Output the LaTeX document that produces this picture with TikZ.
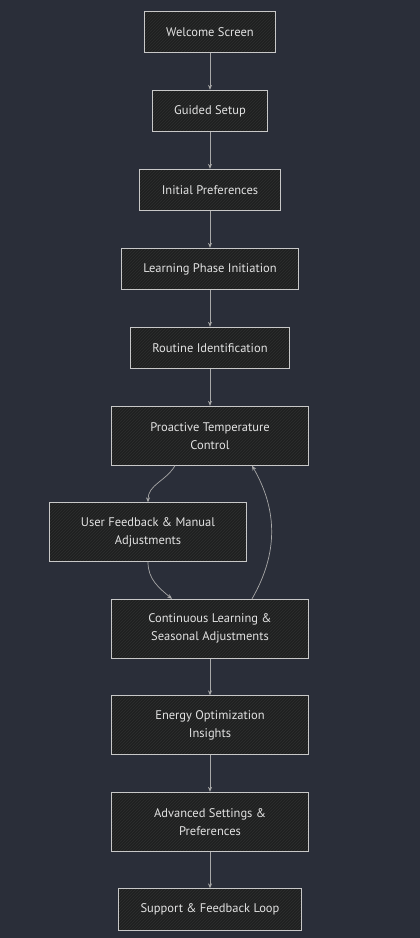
\documentclass[tikz,border=0pt]{standalone}
\usepackage{fontspec}
\setmainfont{PT Sans}
\usepackage{tikz}
\usetikzlibrary{positioning, arrows.meta, patterns}

\definecolor{bgdark}{HTML}{2A2E39}
\definecolor{boxfill}{HTML}{1F2020}
\definecolor{boxline}{HTML}{C8C8C8}
\definecolor{boxtext}{HTML}{E2E2E2}
\definecolor{flowline}{HTML}{A8A8A8}

\begin{document}
\begin{tikzpicture}[x=1pt, y=1pt, node distance=36.7pt, font=\fontsize{12.5}{18}\selectfont,
    stage/.style={draw=boxline, line width=0.8pt, text=boxtext, preaction={fill=boxfill},
        pattern={north east lines}, pattern color=boxline!9!boxfill,
        inner xsep=22pt, minimum height=41.5pt, align=center},
    wide/.style={minimum width=197pt, minimum height=59pt},
    flow/.style={draw=flowline, line width=0.7pt, -{Stealth[length=5pt, width=4pt]}}]
    % Background and page size
    \fill[bgdark] (0,0) rectangle (420,938);
    \useasboundingbox (0,0) rectangle (420,938);

    % Define the stages
    \node[stage] (welcome) at (210,906) {Welcome Screen};
    \node[stage, below=of welcome] (setup) {Guided Setup};
    \node[stage, below=of setup] (prefs) {Initial Preferences};
    \node[stage, below=of prefs] (learn) {Learning Phase Initiation};
    \node[stage, below=of learn] (routine) {Routine Identification};
    \node[stage, wide, below=of routine] (proactive) {Proactive Temperature\\Control};
    \node[stage, wide, below=of proactive, xshift=-62pt] (feedback) {User Feedback \& Manual\\Adjustments};
    \node[stage, wide, below=of feedback, xshift=62pt] (seasonal) {Continuous Learning \&\\Seasonal Adjustments};
    \node[stage, wide, below=of seasonal] (energy) {Energy Optimization\\Insights};
    \node[stage, wide, below=of energy] (advanced) {Advanced Settings \&\\Preferences};
    \node[stage, below=of advanced] (support) {Support \& Feedback Loop};

    % Define the transitions
    \draw[flow] (welcome) -- (setup);
    \draw[flow] (setup) -- (prefs);
    \draw[flow] (prefs) -- (learn);
    \draw[flow] (learn) -- (routine);
    \draw[flow] (routine) -- (proactive);
    \draw[flow] ([xshift=-35pt]proactive.south) to[out=240, in=90] (feedback.north);
    \draw[flow] (feedback.south) to[out=270, in=140] ([xshift=-38pt]seasonal.north);
    \draw[flow] ([xshift=42pt]seasonal.north) to[out=60, in=-60] ([xshift=42pt]proactive.south);
    \draw[flow] (seasonal) -- (energy);
    \draw[flow] (energy) -- (advanced);
    \draw[flow] (advanced) -- (support);

\end{tikzpicture}
\end{document}
